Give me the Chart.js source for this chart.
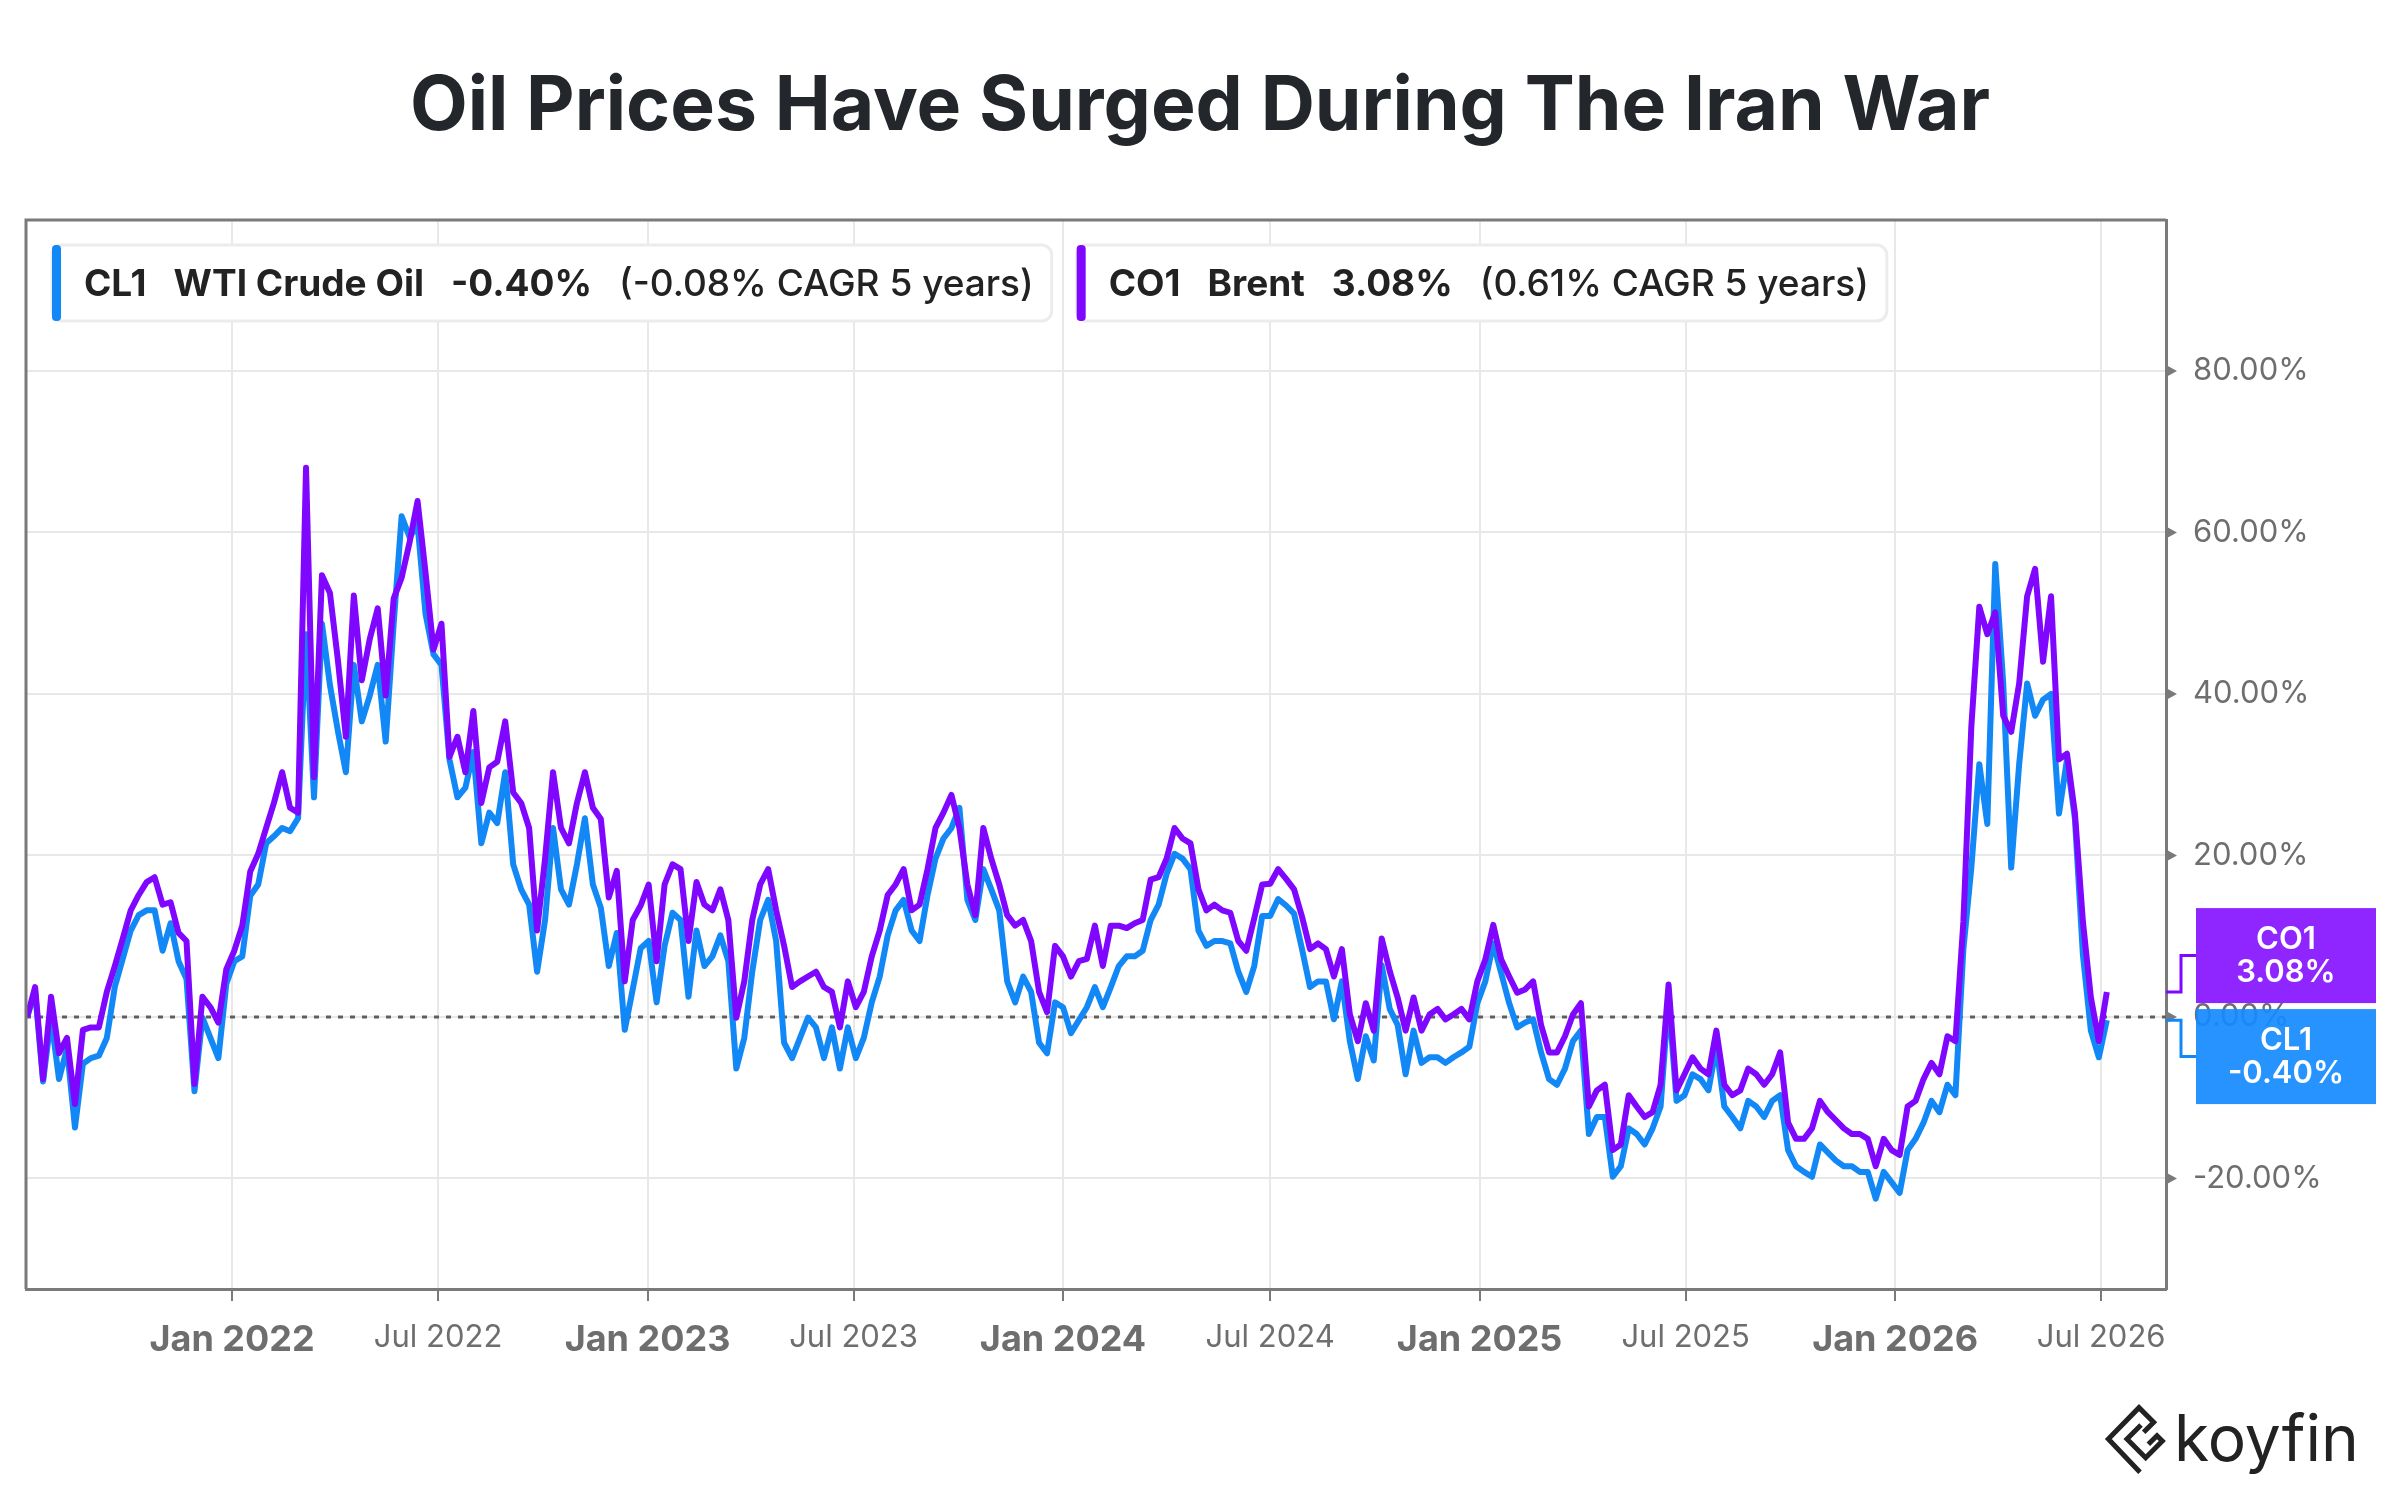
<!DOCTYPE html>
<html>
<head>
<meta charset="utf-8">
<title>Oil Prices Have Surged During The Iran War</title>
<script src="https://cdn.jsdelivr.net/npm/chart.js@4.4.1/dist/chart.umd.min.js"></script>
<style>
  html, body { margin: 0; padding: 0; background: #fff; }
  #wrap { width: 2400px; height: 1500px; }
</style>
</head>
<body>
<div id="wrap"><canvas id="oilChart" width="2400" height="1500"></canvas></div>
<script>
// Weekly % change since the first week (Jul 2021)
const startDate = '2021-07-05';
const stepDays = 7;

const wti = [
  0, 3.1, -8.0, -0.1, -7.7, -3.9, -13.7, -5.8, -5.1, -4.8,
  -2.6, 3.7, 7.2, 10.7, 12.6, 13.2, 13.2, 8.2, 11.6, 6.9,
  4.7, -9.2, -0.1, -2.6, -5.1, 4.1, 6.9, 7.5, 15.0, 16.4,
  21.5, 22.4, 23.4, 23.0, 24.6, 47.4, 27.2, 48.7, 41.1, 35.4,
  30.3, 43.6, 36.6, 39.8, 43.6, 34.1, 48.7, 62.0, 59.4, 61.0,
  49.9, 44.9, 43.6, 31.9, 27.2, 28.4, 32.8, 21.5, 25.3, 24.0,
  30.3, 18.9, 15.8, 13.9, 5.6, 12.0, 23.4, 15.8, 13.9, 18.9,
  24.6, 16.4, 13.5, 6.3, 10.4, -1.6, 3.4, 8.5, 9.4, 1.8,
  8.8, 12.9, 12.0, 2.5, 10.7, 6.3, 7.5, 10.1, 6.9, -6.4,
  -2.6, 5.6, 12.0, 14.5, 9.4, -3.2, -5.1, -2.6, -0.1, -1.3,
  -5.1, -1.3, -6.4, -1.3, -5.1, -2.6, 1.8, 5.0, 10.1, 13.2,
  14.5, 10.7, 9.4, 15.1, 19.6, 22.1, 23.4, 25.9, 14.5, 12.0,
  18.3, 15.8, 13.2, 4.4, 1.8, 5.0, 3.1, -3.2, -4.5, 1.8,
  1.2, -2.0, -0.4, 1.2, 3.7, 1.2, 3.7, 6.3, 7.5, 7.5,
  8.2, 12.0, 13.9, 17.7, 20.2, 19.6, 18.3, 10.7, 8.8, 9.4,
  9.4, 9.1, 5.6, 3.1, 6.3, 12.5, 12.5, 14.6, 13.8, 12.8,
  8.4, 3.7, 4.4, 4.4, -0.3, 4.4, -3.0, -7.7, -2.4, -5.4,
  6.4, 1.0, -1.0, -7.1, -1.7, -5.7, -5.0, -5.0, -5.7, -5.0,
  -4.4, -3.7, 1.7, 4.4, 9.1, 5.4, 1.7, -1.3, -0.7, -0.3,
  -4.4, -7.7, -8.4, -6.4, -3.0, -1.7, -14.5, -12.4, -12.4, -19.8,
  -18.5, -13.8, -14.5, -15.8, -13.8, -11.1, 2.4, -10.4, -9.7, -7.1,
  -7.7, -9.1, -3.7, -11.1, -12.4, -13.8, -10.4, -11.1, -12.4, -10.4,
  -9.7, -16.5, -18.5, -19.2, -19.8, -15.8, -16.8, -17.8, -18.5, -18.5,
  -19.2, -19.2, -22.5, -19.2, -20.5, -21.8, -16.5, -15.1, -13.1, -10.4,
  -11.8, -8.4, -9.7, 8.4, 18.5, 31.3, 23.9, 56.1, 41.3, 18.5,
  31.3, 41.3, 37.3, 39.3, 40.0, 25.2, 31.9, 24.5, 7.7, -1.7,
  -5.0, -0.40
];

const brent = [
  0, 3.7, -7.7, 2.5, -4.5, -2.6, -10.8, -1.6, -1.3, -1.3,
  3.1, 6.3, 9.7, 13.2, 15.1, 16.7, 17.3, 13.9, 14.2, 10.4,
  9.4, -8.3, 2.5, 1.2, -0.7, 5.9, 8.2, 11.3, 18.0, 20.2,
  23.4, 26.6, 30.3, 25.9, 25.3, 68.0, 29.7, 54.7, 52.5, 44.2,
  34.7, 52.2, 41.7, 46.8, 50.6, 39.8, 51.8, 54.4, 58.8, 63.9,
  55.0, 45.5, 48.7, 32.2, 34.7, 30.3, 37.9, 26.5, 30.9, 31.6,
  36.6, 27.8, 26.5, 23.4, 10.7, 19.6, 30.3, 23.4, 21.5, 26.5,
  30.3, 25.9, 24.5, 14.8, 18.1, 4.4, 12.0, 13.8, 16.4, 6.9,
  16.4, 18.9, 18.3, 9.4, 16.7, 13.9, 13.2, 15.8, 12.0, -0.1,
  4.4, 12.0, 16.4, 18.3, 13.2, 8.8, 3.7, 4.4, 5.0, 5.6,
  3.7, 3.1, -1.3, 4.4, 1.2, 3.1, 7.5, 10.7, 15.1, 16.4,
  18.3, 13.2, 13.9, 18.3, 23.4, 25.3, 27.5, 23.4, 16.4, 12.6,
  23.4, 19.6, 16.4, 12.6, 11.3, 12.0, 9.4, 3.1, 0.6, 8.8,
  7.5, 5.0, 6.9, 7.2, 11.3, 6.3, 11.3, 11.3, 11.0, 11.6,
  12.0, 17.0, 17.3, 19.6, 23.4, 22.1, 21.5, 15.8, 13.2, 13.9,
  13.2, 12.9, 9.4, 8.2, 12.2, 16.4, 16.5, 18.3, 17.1, 15.8,
  12.4, 8.4, 9.1, 8.4, 5.0, 8.4, 0.3, -3.0, 1.7, -1.7,
  9.7, 5.7, 2.4, -1.7, 2.4, -1.7, 0.3, 1.0, -0.3, 0.3,
  1.0, -0.3, 4.4, 7.1, 11.4, 7.1, 5.0, 3.0, 3.4, 4.4,
  -1.0, -4.4, -4.4, -2.4, 0.3, 1.7, -11.1, -9.1, -8.4, -16.5,
  -15.8, -9.7, -11.1, -12.4, -11.8, -8.4, 4.0, -9.1, -7.1, -5.0,
  -6.4, -7.1, -1.7, -8.4, -9.7, -9.1, -6.4, -7.1, -8.4, -7.1,
  -4.4, -13.1, -15.1, -15.1, -13.8, -10.4, -11.8, -12.8, -13.8, -14.5,
  -14.5, -15.1, -18.5, -15.1, -16.5, -17.1, -11.1, -10.4, -7.7, -5.7,
  -7.1, -2.4, -3.0, 11.8, 36.0, 50.8, 47.4, 50.1, 37.3, 35.3,
  41.3, 52.1, 55.5, 44.0, 52.1, 31.9, 32.6, 25.2, 11.8, 2.4,
  -3.0, 3.08
];

const seriesCodes = ['CL1', 'CO1'];
const seriesNames = ['WTI Crude Oil', 'Brent'];
const seriesChange = ['-0.40%', '3.08%'];
const seriesCagr = ['(-0.08% CAGR 5 years)', '(0.61% CAGR 5 years)'];

const tickDates = ['2022-01-01', '2022-07-01', '2023-01-01', '2023-07-01', '2024-01-01',
                   '2024-07-01', '2025-01-01', '2025-07-01', '2026-01-01', '2026-07-01'];
const tickLabels = ['Jan 2022', 'Jul 2022', 'Jan 2023', 'Jul 2023', 'Jan 2024',
                    'Jul 2024', 'Jan 2025', 'Jul 2025', 'Jan 2026', 'Jul 2026'];
const yTicks = [-20, 0, 20, 40, 60, 80];
const xRange = ['2021-07-04', '2026-08-27'];
const yRange = [-33.7, 98.7];

const DAY = 86400000;
const t0 = Date.parse(startDate + 'T00:00:00Z');
const toPoints = arr => arr.map((v, i) => ({ x: t0 + i * stepDays * DAY, y: v }));

const BLUE = '#1288F6';
const PURPLE = '#7F06FF';
const AXIS = '#7a7a7a';
const FONT = 'Inter';

Chart.defaults.font.family = FONT;

function roundRect(ctx, x, y, w, h, r) {
  ctx.beginPath();
  ctx.moveTo(x + r, y);
  ctx.lineTo(x + w - r, y);
  ctx.arcTo(x + w, y, x + w, y + r, r);
  ctx.lineTo(x + w, y + h - r);
  ctx.arcTo(x + w, y + h, x + w - r, y + h, r);
  ctx.lineTo(x + r, y + h);
  ctx.arcTo(x, y + h, x, y + h - r, r);
  ctx.lineTo(x, y + r);
  ctx.arcTo(x, y, x + r, y, r);
  ctx.closePath();
}

// one legend chip: coloured bar, then code / name / change / cagr
function drawChip(ctx, x, top, h, color, parts) {
  const gap = 27, padL = 32, padR = 18;
  let w = padL + padR;
  parts.forEach((p, i) => {
    ctx.font = p.font;
    w += ctx.measureText(p.text).width + (i ? gap : 0);
  });
  ctx.save();
  roundRect(ctx, x, top, w, h, 10);
  ctx.fillStyle = '#fff';
  ctx.fill();
  ctx.lineWidth = 3;
  ctx.strokeStyle = '#ececec';
  ctx.stroke();
  roundRect(ctx, x, top, 9, h, 4);
  ctx.fillStyle = color;
  ctx.fill();
  let tx = x + padL;
  ctx.fillStyle = '#222';
  ctx.textBaseline = 'middle';
  parts.forEach(p => {
    ctx.font = p.font;
    ctx.fillText(p.text, tx, top + h / 2 + 2);
    tx += ctx.measureText(p.text).width + gap;
  });
  ctx.restore();
  return w;
}

const decor = {
  id: 'decor',
  beforeDatasetsDraw(chart) {
    const { ctx, chartArea: a, scales: { y } } = chart;
    const y0 = y.getPixelForValue(0);
    ctx.save();
    ctx.strokeStyle = '#5f5f5f';
    ctx.lineWidth = 3;
    ctx.setLineDash([5, 7]);
    ctx.beginPath();
    ctx.moveTo(a.left, y0);
    ctx.lineTo(a.right, y0);
    ctx.stroke();
    ctx.restore();
  },
  afterDraw(chart) {
    const { ctx, chartArea: a, scales: { y } } = chart;
    ctx.save();

    // frame top + left
    ctx.strokeStyle = AXIS;
    ctx.lineWidth = 3;
    ctx.beginPath();
    ctx.moveTo(a.left, a.bottom);
    ctx.lineTo(a.left, a.top);
    ctx.lineTo(a.right, a.top);
    ctx.stroke();

    // tick arrows on the right axis
    ctx.fillStyle = AXIS;
    yTicks.forEach(v => {
      const py = y.getPixelForValue(v);
      ctx.beginPath();
      ctx.moveTo(a.right, py - 6);
      ctx.lineTo(a.right + 11, py);
      ctx.lineTo(a.right, py + 6);
      ctx.closePath();
      ctx.fill();
    });

    // legend chips
    const bold = `700 37px ${FONT}`, med = `500 37px ${FONT}`;
    let lx = 52;
    const colors = [BLUE, PURPLE];
    for (let k = 0; k < 2; k++) {
      const w = drawChip(ctx, lx, 245, 76, colors[k], [
        { text: seriesCodes[k], font: bold },
        { text: seriesNames[k], font: bold },
        { text: seriesChange[k], font: bold },
        { text: seriesCagr[k], font: med }
      ]);
      lx += w + 25;
    }

    // last value boxes on the right axis
    const ends = [
      { code: 'CO1', v: brent[brent.length - 1], fill: '#8514FF', line: PURPLE },
      { code: 'CL1', v: wti[wti.length - 1], fill: '#148AFF', line: BLUE }
    ];
    const py = ends.map(e => y.getPixelForValue(e.v));
    const mid = (py[0] + py[1]) / 2;
    const bh = 95, bx = a.right + 30, bw = 180;
    const boxTop = [mid - 3 - bh, mid + 3];
    ends.forEach((e, k) => {
      const cy = boxTop[k] + bh / 2;
      ctx.strokeStyle = e.line;
      ctx.lineWidth = 3;
      ctx.beginPath();
      ctx.moveTo(a.right, py[k]);
      ctx.lineTo(a.right + 15, py[k]);
      ctx.lineTo(a.right + 15, cy);
      ctx.lineTo(bx, cy);
      ctx.stroke();
      ctx.globalAlpha = 0.92;
      ctx.fillStyle = e.fill;
      ctx.fillRect(bx, boxTop[k], bw, bh);
      ctx.globalAlpha = 1;
      ctx.fillStyle = '#fff';
      ctx.font = `600 31px ${FONT}`;
      ctx.textAlign = 'center';
      ctx.textBaseline = 'middle';
      ctx.fillText(e.code, bx + bw / 2, cy - 16);
      ctx.fillText(e.v.toFixed(2) + '%', bx + bw / 2, cy + 17);
    });

    // title
    ctx.fillStyle = '#23272b';
    ctx.font = `700 75px ${FONT}`;
    ctx.textAlign = 'center';
    ctx.textBaseline = 'middle';
    ctx.fillText('Oil Prices Have Surged During The Iran War', 1200, 107);

    // koyfin logo
    ctx.fillStyle = '#222';
    ctx.font = `400 64px ${FONT}`;
    ctx.textAlign = 'left';
    ctx.textBaseline = 'alphabetic';
    ctx.fillText('koyfin', 2174, 1461);
    const ox = 2095, oy = 1395, s = 1 / 3;
    const icon = [
      [[135, 232], [40, 132], [132, 38], [176, 82], [146, 112]],
      [[138, 90], [96, 132], [152, 188], [202, 138], [186, 122], [160, 148]]
    ];
    ctx.strokeStyle = '#222';
    ctx.lineWidth = 5;
    ctx.lineJoin = 'miter';
    icon.forEach(pl => {
      ctx.beginPath();
      pl.forEach(([px, pyy], i) => {
        const X = ox + px * s, Y = oy + pyy * s;
        i ? ctx.lineTo(X, Y) : ctx.moveTo(X, Y);
      });
      ctx.stroke();
    });
    ctx.restore();
  }
};

new Chart(document.getElementById('oilChart').getContext('2d'), {
  type: 'line',
  data: {
    datasets: [
      {
        label: 'CO1 Brent',
        data: toPoints(brent),
        borderColor: PURPLE,
        borderWidth: 6,
        pointRadius: 0,
        tension: 0,
        borderJoinStyle: 'round',
        order: 0
      },
      {
        label: 'CL1 WTI Crude Oil',
        data: toPoints(wti),
        borderColor: BLUE,
        borderWidth: 6,
        pointRadius: 0,
        tension: 0,
        borderJoinStyle: 'round',
        order: 1
      }
    ]
  },
  options: {
    responsive: false,
    devicePixelRatio: 1,
    animation: false,
    layout: { padding: { left: 26, top: 220, right: 0, bottom: 0 } },
    plugins: { legend: { display: false }, tooltip: { enabled: false }, title: { display: false } },
    scales: {
      x: {
        type: 'linear',
        min: Date.parse(xRange[0] + 'T00:00:00Z'),
        max: Date.parse(xRange[1] + 'T00:00:00Z'),
        afterBuildTicks: s => { s.ticks = tickDates.map(d => ({ value: Date.parse(d + 'T00:00:00Z') })); },
        afterFit: s => { s.height = 211; },
        grid: { color: '#e8e8e8', lineWidth: 2, drawTicks: true, tickLength: 12, tickColor: AXIS, tickWidth: 2 },
        border: { display: true, color: AXIS, width: 3 },
        ticks: {
          autoSkip: false,
          maxRotation: 0,
          padding: 18,
          color: '#6e6e6e',
          callback: (v, i) => tickLabels[i],
          font: c => tickLabels[c.index] && tickLabels[c.index].startsWith('Jan')
            ? { family: FONT, size: 36, weight: '700' }
            : { family: FONT, size: 31, weight: '400' }
        }
      },
      y: {
        position: 'right',
        min: yRange[0],
        max: yRange[1],
        afterBuildTicks: s => { s.ticks = yTicks.map(v => ({ value: v })); },
        afterFit: s => { s.width = 234; },
        grid: { color: '#e8e8e8', lineWidth: 2, drawTicks: false },
        border: { display: true, color: AXIS, width: 3 },
        ticks: {
          padding: 27,
          color: '#6e6e6e',
          font: { family: FONT, size: 31, weight: '400' },
          callback: v => v.toFixed(2) + '%'
        }
      }
    }
  },
  plugins: [decor]
});
</script>
</body>
</html>
